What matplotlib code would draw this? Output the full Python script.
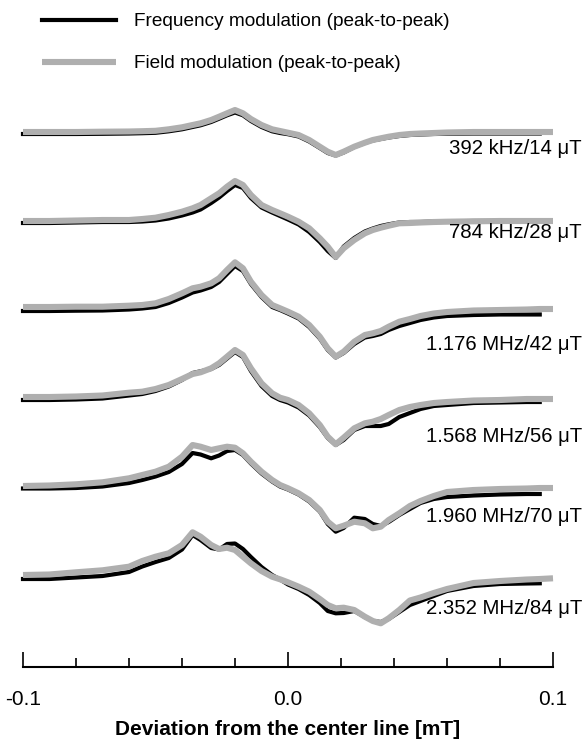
import matplotlib
matplotlib.use('Agg')
import matplotlib.pyplot as plt
import numpy as np

plt.rcParams['font.family'] = ['Liberation Sans', 'DejaVu Sans']

nan = np.nan

# deviation from the center line [mT], shared sampling for all traces
x_mT = [-0.1, -0.09, -0.08, -0.07, -0.06,
        -0.055, -0.05, -0.045, -0.04, -0.036,
        -0.033, -0.029, -0.026, -0.023, -0.02,
        -0.017, -0.014, -0.01, -0.006, -0.003,
        0.0, 0.004, 0.008, 0.012, 0.015,
        0.018, 0.021, 0.025, 0.029, 0.032,
        0.035, 0.038, 0.042, 0.046, 0.05,
        0.055, 0.06, 0.07, 0.08, 0.09,
        0.095, 0.1]

labels = ['392 kHz/14 \u03bcT', '784 kHz/28 \u03bcT', '1.176 MHz/42 \u03bcT',
          '1.568 MHz/56 \u03bcT', '1.960 MHz/70 \u03bcT', '2.352 MHz/84 \u03bcT']

# field modulation (grey) signals, arbitrary units
field_392 = [0, 0, 0, 0.3, 0.5,
             0.8, 1.2, 2.7, 4.7, 7,
             8.7, 12, 15.3, 18.7, 22,
             18.7, 13, 7, 2.7, 1,
             -0.7, -3, -8, -14.7, -19.7,
             -23, -19.7, -14.7, -10.7, -8,
             -6.3, -4.7, -3, -2, -1.5,
             -1, -0.5, 0, 0, 0,
             0, 0]
field_784 = [0, 0, 0.5, 1, 1,
             2, 3.3, 6, 9.3, 12.7,
             16, 22.7, 27.7, 34.3, 40,
             36, 26, 16, 11, 7.7,
             4.3, -0.7, -7.3, -17.3, -25.7,
             -36, -27.3, -19, -12.3, -9,
             -6.7, -4.7, -2.3, -2, -1.5,
             -1, -0.7, -0.3, 0, 0,
             0, 0]
field_1176 = [0, 0, 0.3, 0.3, 1.3,
              2, 3.7, 8, 13.7, 18.7,
              20.3, 23.7, 28.7, 37, 44.7,
              38.7, 25.3, 12, 2, -1.3,
              -4.7, -9.7, -18, -29.7, -41.3,
              -49.7, -44.7, -34.7, -28, -26.3,
              -24, -19.7, -14.7, -12, -9,
              -6.5, -5, -3.5, -3, -2.5,
              -2, -2]
field_1568 = [0, 0, 0.5, 1.5, 4.3,
              5.3, 8, 12, 18, 23,
              24.7, 28.7, 33.7, 40.3, 47,
              42, 28.7, 13.7, 3.7, -0.7,
              -3, -8, -16.3, -28, -39.7,
              -47.3, -40.7, -31.3, -26.3, -24.7,
              -22, -18, -13, -10, -8,
              -6, -5, -3.5, -3, -2,
              -2, -2]
field_1960 = [0, 0.5, 1.7, 3.7, 7.7,
              11, 14.3, 19.3, 29.3, 41,
              39.3, 36, 37.7, 39.3, 38.3,
              32.7, 24.3, 14.3, 6, 1,
              -2.3, -7.3, -14, -24, -35.7,
              -42.3, -39.7, -35.7, -37.3, -42.3,
              -40.7, -34, -27.3, -20, -15,
              -10, -6, -4, -3, -2.5,
              -2, -2]
field_2352 = [0, 0.5, 2.7, 4.7, 8.3,
              14, 18.3, 21.7, 30, 42.7,
              38.3, 30, 26, 27.3, 25,
              18.3, 11.7, 4, -1.7, -4.3,
              -7.3, -11.7, -16.7, -24, -30,
              -33.3, -32.7, -35, -41.7, -46,
              -48.3, -43.3, -35, -25.5, -22.5,
              -18, -14, -8, -6, -4.5,
              -4, -3.3]

# frequency modulation (black) signals, same units, recorded up to 0.095 mT
freq_392 = [-2, -2, -2, -1.8, -1.5,
            -1.2, -0.8, 0.7, 2.7, 5,
            6.7, 10, 13.3, 16.7, 19.5,
            16.7, 11, 5, 0.7, -1,
            -2.2, -4.5, -9.5, -16, -21,
            -23.5, -20.5, -15, -11, -8.5,
            -7, -5.5, -4, -3, -2.5,
            -2, -1.8, -1.5, -1.5, -1.5,
            -1.5, nan]
freq_784 = [-2, -2, -1.5, -1, -1,
            -0.5, 0.5, 2.5, 5.5, 8.5,
            11.5, 18, 23.5, 30, 36,
            33, 23, 13.5, 8.5, 5,
            1.5, -3.5, -11, -21, -30,
            -37, -25.5, -17, -10.5, -7.5,
            -5, -3.3, -1.5, -1, -1,
            -0.5, -0.3, 0, 0, 0,
            0, nan]
freq_1176 = [-4, -4, -3.7, -3.5, -2.5,
             -1.5, 0, 4, 9.5, 14.5,
             16.5, 20, 25, 33, 41,
             36, 23, 10, 0, -3,
             -6.5, -11.5, -20, -31.5, -43,
             -50.5, -46, -37, -30.5, -29,
             -27, -23, -19, -16, -13,
             -10.5, -9, -8, -7.5, -7.5,
             -7.5, nan]
freq_1568 = [-3, -3, -2.5, -1.5, 1.5,
             3, 6, 10.5, 17, 24,
             25.7, 28, 32, 38.5, 45,
             40, 26, 11, 1, -3,
             -5.5, -10.5, -18.5, -30, -41,
             -48, -43, -33, -29, -29,
             -29, -27, -20, -16, -12,
             -9, -8, -6, -5.5, -5,
             -5, nan]
freq_1960 = [-2.5, -2.5, -2, -0.5, 3,
             6, 9.5, 14, 22, 33,
             31.5, 27.7, 30.5, 35, 36,
             31, 22.5, 12.5, 4.5, -0.5,
             -3.5, -8.5, -15.5, -25.5, -38,
             -45.7, -42, -31.7, -33, -38,
             -40, -36, -29, -23, -17,
             -13, -11, -9.5, -8.5, -8,
             -8, nan]
freq_2352 = [-4, -4, -2.5, -1, 3,
             8.5, 13, 17, 25.5, 40,
             35, 27, 25.5, 31, 31.5,
             26, 18, 8, 0, -4.5,
             -9.5, -14, -20, -28, -36,
             -38.3, -38, -36, -42, -46,
             -47, -44, -37, -30, -26,
             -21, -16, -11, -9, -8.5,
             -8.3, nan]

field = [field_392, field_784, field_1176, field_1568, field_1960, field_2352]
freq = [freq_392, freq_784, freq_1176, freq_1568, freq_1960, freq_2352]

# vertical stacking of the traces and where their labels sit
offsets = [535, 446, 360, 270, 181, 92]
label_y = [519, 434, 323, 230, 150, 59]

grey = '#afafaf'

fig = plt.figure(figsize=(5.84, 7.39), dpi=100)
ax = fig.add_axes([23 / 584, 72 / 739, 530 / 584, 667 / 739])

x = np.array(x_mT)
for i in range(len(offsets)):
    fm = ax.plot(x, np.array(freq[i]) + offsets[i], color='black', lw=3.0,
                 solid_joinstyle='round', clip_on=False)
    bm = ax.plot(x, np.array(field[i]) + offsets[i], color=grey, lw=4.4,
                 solid_joinstyle='round', solid_capstyle='butt', clip_on=False)
    if i == 0:
        fm[0].set_label('Frequency modulation (peak-to-peak)')
        bm[0].set_label('Field modulation (peak-to-peak)')
    ax.text(1.0547, label_y[i], labels[i], transform=ax.get_yaxis_transform(),
            ha='right', va='center', fontsize=14.7)

ax.set_xlim(-0.1, 0.1)
ax.set_ylim(0, 667)

for s in ['top', 'left', 'right']:
    ax.spines[s].set_visible(False)
ax.spines['bottom'].set_linewidth(1.5)
ax.set_yticks([])
ax.set_xticks([-0.1, 0.0, 0.1])
ax.set_xticklabels(['-0.1', '0.0', '0.1'])
ax.set_xticks(np.arange(-0.08, 0.1, 0.02), minor=True)
ax.tick_params(axis='x', which='major', direction='in', length=10.5, width=1.2,
               pad=16.5, labelsize=15)
ax.tick_params(axis='x', which='minor', direction='in', length=6.5, width=1.2)
ax.set_xlabel('Deviation from the center line [mT]', fontsize=15,
              fontweight='bold', labelpad=8)

ax.legend(loc='upper left', bbox_to_anchor=(42 / 584, 1 - 13 / 739),
          bbox_transform=fig.transFigure, frameon=False, fontsize=13.7,
          borderpad=0, borderaxespad=0, handlelength=3.9, handletextpad=0.95,
          labelspacing=1.3)

fig.savefig('out.png', dpi=100)
